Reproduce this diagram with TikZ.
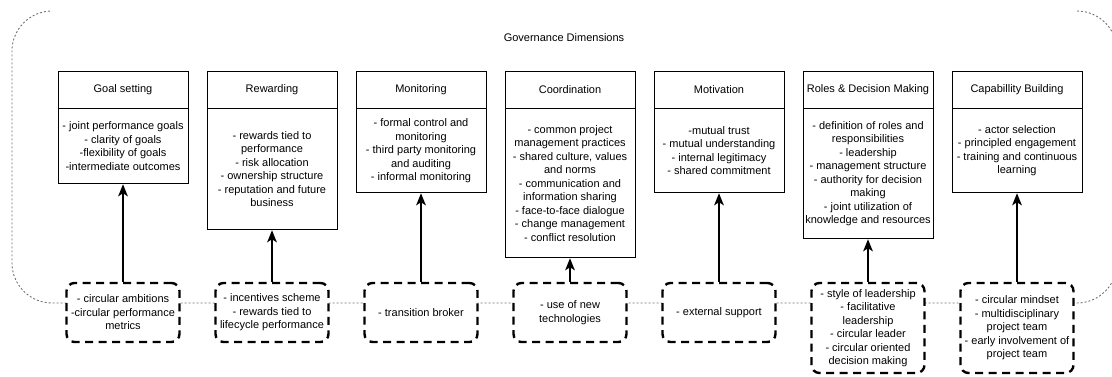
\documentclass[tikz,border=0pt]{standalone}
\usepackage{fontspec}
\setmainfont{Liberation Sans}
\usetikzlibrary{arrows.meta}

\tikzset{
  head/.style={draw, line width=0.8pt, minimum width=130, minimum height=37, inner sep=1pt},
  body/.style={draw, line width=0.8pt, anchor=north, minimum width=130, align=center, inner sep=1pt},
  lever/.style={draw, line width=2.4pt, dash pattern=on 8pt off 5.5pt, rounded corners=8pt, fill=white, minimum width=113, align=center, inner sep=1pt},
  push/.style={-{Stealth[length=12pt,width=9.5pt,inset=3pt]}, line width=2.5pt},
  outline/.style={black!55, line width=0.9pt, dash pattern=on 2pt off 2pt}
}

\begin{document}
\begin{tikzpicture}[x=1pt, y=-1pt, font=\fontsize{11}{13.5}\selectfont]
        \useasboundingbox (0,0) rectangle (1112,376);

        \draw[outline] (1077,11) .. controls (1099,11) and (1117,29) .. (1117,51) -- (1117,263)
            .. controls (1117,285) and (1099,303) .. (1077,303) -- (52,303)
            .. controls (30,303) and (12,285) .. (12,263) -- (12,51)
            .. controls (12,29) and (30,11) .. (52,11);
        \node (title) at (564,38) {Governance Dimensions};

        \node[head] (goal) at (123,89.5) {Goal setting};
        \node[body, minimum height=75] (goalb) at (goal.south) {- joint performance goals\\- clarity of goals\\-flexibility of goals\\-intermediate outcomes};


        \node[head] (reward) at (272,89.5) {Rewarding};
        \node[body, minimum height=121] (rewardb) at (reward.south) {- rewards tied to\\performance\\- risk allocation\\- ownership structure\\- reputation and future\\business};


        \node[head] (monitor) at (421,89.5) {Monitoring};
        \node[body, minimum height=84] (monitorb) at (monitor.south) {- formal control and\\monitoring\\- third party monitoring\\and auditing\\- informal monitoring};


        \node[head] (coord) at (570,89.5) {Coordination};
        \node[body, minimum height=149] (coordb) at (coord.south) {- common project\\management practices\\- shared culture, values\\and norms\\- communication and\\information sharing\\- face-to-face dialogue\\- change management\\- conflict resolution};


        \node[head] (motiv) at (719,89.5) {Motivation};
        \node[body, minimum height=84] (motivb) at (motiv.south) {-mutual trust\\- mutual understanding\\- internal legitimacy\\- shared commitment};


        \node[head] (roles) at (868,89.5) {Roles \& Decision Making};
        \node[body, minimum height=130] (rolesb) at (roles.south) {- definition of roles and\\responsibilities\\- leadership\\- management structure\\- authority for decision\\making\\- joint utilization of\\knowledge and resources};


        \node[head] (capab) at (1017,89.5) {Capabillity Building};
        \node[body, minimum height=84] (capabb) at (capab.south) {- actor selection\\- principled engagement\\- training and continuous\\learning};


        \node[lever, minimum height=59] (goalx) at (123,312.5) {- circular ambitions\\-circular performance\\metrics};
        \node[lever, minimum height=59] (rewardx) at (272,312.5) {- incentives scheme\\- rewards tied to\\lifecycle performance};
        \node[lever, minimum height=59] (monitorx) at (421,312.5) {- transition broker};
        \node[lever, minimum height=59] (coordx) at (570,312.5) {- use of new\\technologies};
        \node[lever, minimum height=59] (motivx) at (719,312.5) {- external support};
        \node[lever, minimum height=90] (rolesx) at (868,328) {- style of leadership\\- facilitative\\leadership\\- circular leader\\- circular oriented\\decision making};
        \node[lever, minimum height=90] (capabx) at (1017,328) {- circular mindset\\- multidisciplinary\\project team\\- early involvement of\\project team};

        \draw[push] (goalx) -- (goalb);
        \draw[push] (rewardx) -- (rewardb);
        \draw[push] (monitorx) -- (monitorb);
        \draw[push] (coordx) -- (coordb);
        \draw[push] (motivx) -- (motivb);
        \draw[push] (rolesx) -- (rolesb);
        \draw[push] (capabx) -- (capabb);
    \end{tikzpicture}
\end{document}
